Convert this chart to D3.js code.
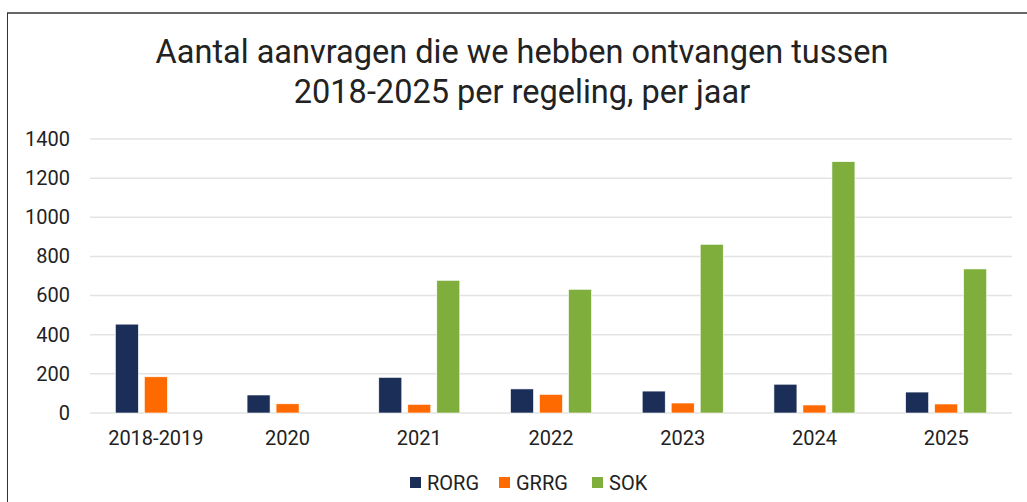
<html>
<head>
<script src="https://d3js.org/d3.v7.min.js"></script>
<style>
  body { margin: 0; background: #fff; }
  text { font-family: Roboto, "Liberation Sans", sans-serif; fill: #222; }
</style>
</head>
<body>
<script>
// chart data
var categories = ["2018-2019", "2020", "2021", "2022", "2023", "2024", "2025"];
var series = ["RORG", "GRRG", "SOK"];
var rorg = [454, 92, 182, 123, 112, 147, 107];
var grrg = [185, 47, 44, 95, 51, 41, 46];
var sok = [0, 0, 678, 632, 862, 1284, 736];
var yTicks = [0, 200, 400, 600, 800, 1000, 1200, 1400];
var colors = ["#1a2e58", "#ff6a00", "#7fae3c"];
var titleLines = ["Aantal aanvragen die we hebben ontvangen tussen", "2018-2025 per regeling, per jaar"];

var W = 1027, H = 502;
var svg = d3.select("body").append("svg")
   .attr("width", W)
   .attr("height", H);

// frame lines (top + left only are visible)
svg.append("line").attr("x1", 7).attr("x2", W).attr("y1", 13).attr("y2", 13)
   .attr("stroke", "#666").attr("stroke-width", 2);
svg.append("line").attr("x1", 7.5).attr("x2", 7.5).attr("y1", 13).attr("y2", H)
   .attr("stroke", "#333").attr("stroke-width", 1);

// title
svg.selectAll("text.title").data(titleLines).enter().append("text")
   .attr("class", "title")
   .attr("x", 522)
   .attr("y", function(d, i) { return 63 + i * 40; })
   .attr("text-anchor", "middle")
   .style("font-size", "32.5px")
   .text(function(d) { return d; });

// scales (plot box)
var pLeft = 90, pRight = 1012, pTop = 139, pBottom = 413;
var x = d3.scaleBand().domain(categories).range([pLeft, pRight]);
var xs = d3.scaleBand().domain(series).range([0, 81]).paddingInner(0.207);
var y = d3.scaleLinear().domain([0, 1400]).range([pBottom, pTop]);

// gridlines
svg.append("g").selectAll("line").data(yTicks).enter().append("line")
   .attr("x1", pLeft).attr("x2", pRight)
   .attr("y1", function(d) { return y(d); })
   .attr("y2", function(d) { return y(d); })
   .attr("stroke", "#e3e3e3").attr("stroke-width", 1.5);

// y axis
var yAxis = svg.append("g")
   .attr("transform", "translate(" + 80 + ",0)")
   .call(d3.axisLeft(y).tickValues(yTicks).tickSize(0).tickPadding(10).tickFormat(d3.format("d")));
yAxis.select(".domain").remove();
yAxis.selectAll("text").style("font-size", "20px").attr("fill", "#222")
   .style("font-family", "Roboto, sans-serif");

// x axis
var xAxis = svg.append("g")
   .attr("transform", "translate(0," + pBottom + ")")
   .call(d3.axisBottom(x).tickSize(0).tickPadding(18));
xAxis.select(".domain").remove();
xAxis.selectAll("text").style("font-size", "20px").attr("fill", "#222")
   .style("font-family", "Roboto, sans-serif");

// bars
var table = categories.map(function(c, i) {
   return { cat: c, vals: [rorg[i], grrg[i], sok[i]] };
});
var groups = svg.selectAll("g.grp").data(table).enter().append("g")
   .attr("class", "grp")
   .attr("transform", function(d) { return "translate(" + (x(d.cat) + x.bandwidth() / 2 - 40.5) + ",0)"; });
groups.selectAll("rect").data(function(d) {
      return d.vals.map(function(v, j) { return { s: series[j], v: v, c: colors[j] }; });
   }).enter().filter(function(d) { return d.v > 0; }).append("rect")
   .attr("x", function(d) { return xs(d.s); })
   .attr("y", function(d) { return y(d.v); })
   .attr("width", xs.bandwidth())
   .attr("height", function(d) { return pBottom - y(d.v); })
   .attr("fill", function(d) { return d.c; })
   .attr("stroke", "#fff").attr("stroke-width", 0.6);

// legend
var legX = [410, 499, 592];
var leg = svg.selectAll("g.leg").data(series).enter().append("g")
   .attr("class", "leg")
   .attr("transform", function(d, i) { return "translate(" + legX[i] + ",483)"; });
leg.append("rect").attr("x", 0).attr("y", -6).attr("width", 11).attr("height", 11)
   .attr("fill", function(d, i) { return colors[i]; });
leg.append("text").attr("x", 17).attr("y", 7)
   .style("font-size", "20px")
   .text(function(d) { return d; });
</script>
</body>
</html>
